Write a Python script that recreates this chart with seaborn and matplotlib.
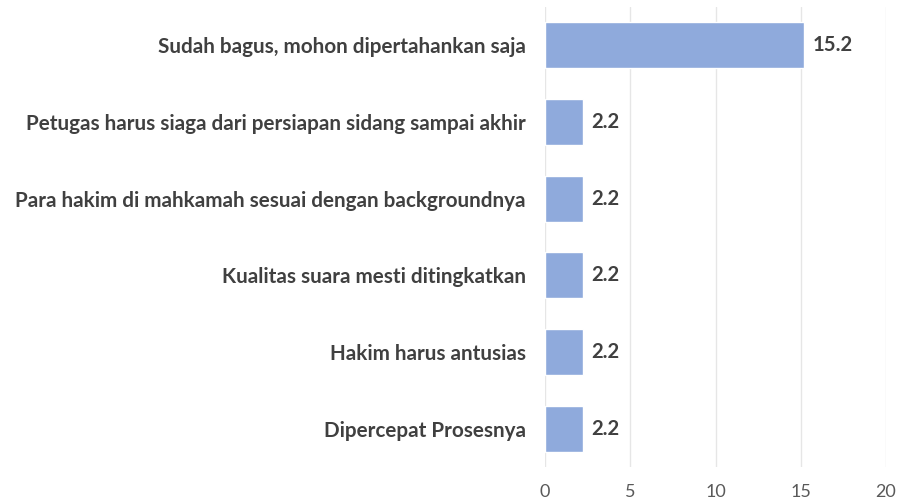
import matplotlib
matplotlib.use("Agg")
import matplotlib.pyplot as plt
import seaborn as sns
import pandas as pd

categories = [
    "Sudah bagus, mohon dipertahankan saja",
    "Petugas harus siaga dari persiapan sidang sampai akhir",
    "Para hakim di mahkamah sesuai dengan backgroundnya",
    "Kualitas suara mesti ditingkatkan",
    "Hakim harus antusias",
    "Dipercepat Prosesnya",
]
values = [15.2, 2.2, 2.2, 2.2, 2.2, 2.2]
xticks = [0, 5, 10, 15, 20]

sns.set_theme(style="white")
plt.rcParams['font.family'] = ['Lato', 'DejaVu Sans']

df = pd.DataFrame({"cat": categories, "val": values})

fig = plt.figure(figsize=(8.99, 5.0), dpi=100)
ax = fig.add_axes([545/899, 33/500, 341/899, 460/500])
sns.barplot(data=df, x="val", y="cat", color="#8FAADC", saturation=1, width=0.6, ax=ax)

ax.set_xlim(0, 20)
ax.set_xticks(xticks)
ax.set_xticklabels([str(t) for t in xticks], fontsize=13, color="#595959")
ax.set_ylabel("")
ax.set_xlabel("")
ax.tick_params(axis='y', labelsize=14.9, labelcolor="#404040", length=0, pad=14)
ax.tick_params(axis='x', length=0, pad=12)
for lbl in ax.get_yticklabels():
    lbl.set_fontweight("bold")
ax.grid(axis='x', color="#E6E6E6", linewidth=1)
ax.set_axisbelow(True)
for s in ax.spines.values():
    s.set_visible(False)

for p, v in zip(ax.patches, values):
    ax.text(p.get_width() + 0.5, p.get_y() + p.get_height()/2, f"{v}",
            va="center", ha="left", fontsize=14.6, fontweight="bold", color="#404040")

fig.savefig("out.png", dpi=100)
